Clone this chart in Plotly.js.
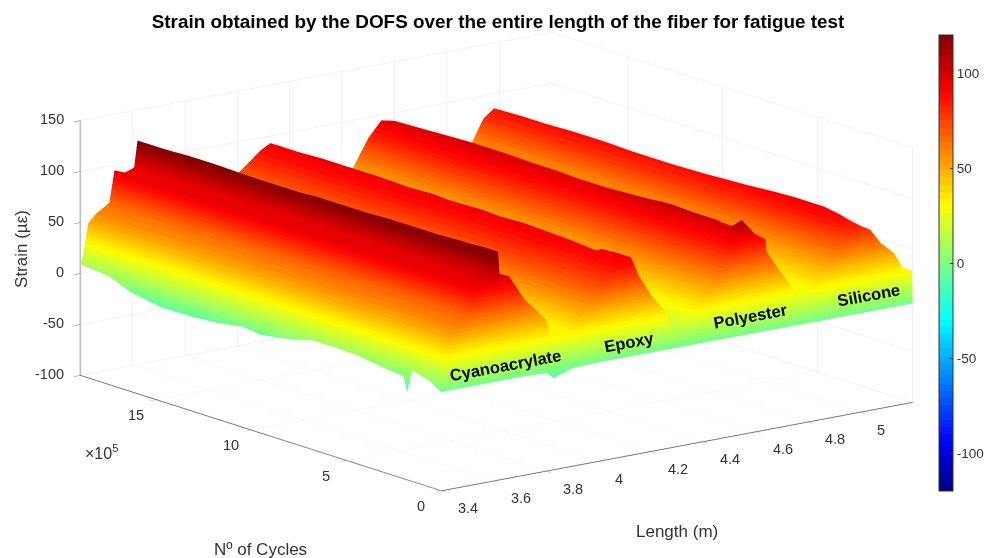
<!DOCTYPE html>
<html><head><meta charset="utf-8">
<script src="https://cdn.plot.ly/plotly-3.0.1.min.js"></script>
<style>html,body{margin:0;padding:0;background:#fff}#c{width:988px;height:558px}</style>
</head><body><div id="c"></div>
<script>
const lengthM=[3.40,3.41,3.43,3.46,3.51,3.53,3.57,3.605,3.618,3.625,3.66,3.72,3.80,3.83,3.90,4.00,4.09,4.126,4.157,4.206,4.263,4.29,4.36,4.44,4.50,4.55,4.60,4.64,4.645,4.70,4.73,4.76,4.82,4.89,4.94,4.98,5.04,5.08,5.13,5.17,5.20];
const cycles=[0,3000,74000,160000,180000,200000,320000,430000,570000,690000,780000,955000,1045000,1180000,1310000,1480000,1630000,1750000,1900000];
const strain=[
[-3.5,-3,-3,-3,-3,-3,-3,-3,-3,-3,-3,-3,-4,-10,-4,-3,-3,-3,-3,-3,-3,-3,-3,-3,-3,-3,-3,-3,-3,-3,-3,-3,-3,-3,-3,-3,-3,-3,-3,-3,-3],
[-3,13,49,60,68,94,96,99,124,100,98,72,49,28,30,68,89,94,74,52,33,5,24,52,80,110,94,87,74,51,40,20,30,54,76,84,77,62,50,31,29],
[4.8,15,48,59,67,95,96,98,124,101,97,73,50,29,31,69,90,94,75,53,34,18,26,54,82,98,94,88,75,52,40,22,31,55,80,90,78,62,50,31,29],
[9,16,47,58,66,96,95,98,123,102,97,72,49,29,30,70,89,93,74,52,33,19,26,55,83,99,95,88,75,51,41,21,30,56,82,93,79,63,51,32,28],
[-14,-2,46,57,66,95,95,98,123,101,96,71,48,28,31,69,88,90,73,51,32,19,25,54,83,100,95,87,74,50,40,21,31,55,81,93,78,62,50,31,28],
[0.2,14,47,58,66,95,94,97,123,101,97,72,49,29,32,69,88,90,74,52,33,20,26,55,84,101,96,88,75,51,41,22,31,55,81,93,78,63,51,32,29],
[2.8,15,46,57,65,94,94,97,122,100,96,71,50,30,31,68,89,92,75,53,34,19,27,56,84,102,96,87,74,52,41,21,30,54,80,93,78,62,50,31,28],
[6.3,16,47,58,66,95,95,96,122,101,97,73,49,29,30,69,90,93,75,52,33,20,26,55,83,103,97,88,75,51,40,22,31,55,80,92,77,62,49,31,28],
[7.3,17,48,58,65,94,94,96,122,100,96,72,50,30,31,70,89,94,76,53,34,20,27,54,82,100,95,87,74,52,41,21,30,54,79,90,77,61,50,30,27],
[7,17,47,57,66,95,93,95,121,101,97,71,49,29,30,69,88,93,75,52,33,19,26,54,81,98,94,86,73,51,40,22,31,55,80,89,76,62,50,31,28],
[1.7,14,46,56,65,94,94,96,121,102,96,72,48,28,31,68,89,94,74,51,32,20,25,53,80,96,93,87,74,50,41,21,30,54,79,88,77,61,49,30,28],
[-3.8,12,45,56,64,95,93,95,121,101,97,71,49,29,32,69,88,93,75,52,33,19,26,54,81,96,93,86,75,51,40,22,30,55,78,87,77,62,50,31,29],
[-1.4,13,46,57,65,94,94,96,120,100,96,72,50,30,31,68,89,94,76,53,34,20,27,55,82,97,94,87,74,52,41,21,31,54,79,87,76,62,51,32,28],
[-5.6,11,45,56,64,95,92,95,120,101,97,70,49,29,30,69,90,93,75,52,33,19,26,54,82,98,94,86,74,51,40,22,30,55,78,87,78,61,50,31,28],
[-7.5,10,44,55,65,94,93,94,120,102,96,71,48,28,31,70,89,94,74,51,32,20,25,55,83,98,95,87,75,50,41,21,29,54,79,88,77,63,50,30,29],
[-8,10,43,55,65,94,94,95,121,102,96,72,48,29,31,69,89,94,75,53,34,19,26,55,83,99,95,87,75,51,40,21,29,54,79,88,78,63,51,31,29],
[-3,12,44,56,64,93,93,96,121,101,95,70,49,30,32,68,88,94,76,52,33,20,25,54,82,97,94,86,74,52,41,22,30,55,78,87,77,62,50,32,28],
[6,16,46,57,65,94,92,95,120,100,96,71,50,29,30,68,87,93,75,51,32,20,27,54,81,96,93,85,73,50,41,22,31,55,79,87,76,61,49,30,27],
[9,18,48,56,64,95,91,94,120,101,97,72,49,28,31,69,88,93,74,52,33,19,26,53,80,95,92,86,74,51,40,21,30,54,78,86,77,62,50,31,28]
];
const lengthTicks=[3.4,3.6,3.8,4,4.2,4.4,4.6,4.8,5];
const cycleTicks=[0,500000,1000000,1500000];
const cycleTickText=['0','5','10','15'];
const strainTicks=[-100,-50,0,50,100,150];
const colorbarTicks=[-100,-50,0,50,100];
const bondLabels=['Cyanoacrylate','Epoxy','Polyester','Silicone'];

// jet colormap, quantised into 64 flat bands as in the reference
const jetStops=[[0,[0,0,128]],[0.11,[0,0,255]],[0.375,[0,255,255]],[0.625,[255,255,0]],[0.875,[255,0,0]],[1,[128,0,0]]];
function jet(t){for(let i=1;i<jetStops.length;i++){if(t<=jetStops[i][0]){const a=jetStops[i-1],b=jetStops[i],f=(t-a[0])/(b[0]-a[0]);
 return 'rgb('+[0,1,2].map(k=>Math.round(a[1][k]+f*(b[1][k]-a[1][k]))).join(',')+')';}}return 'rgb(128,0,0)';}
const bands=64,cs=[];for(let i=0;i<bands;i++){const c=jet((i+.5)/bands);cs.push([i/bands,c]);cs.push([(i+1)/bands,c]);}

const W=988,H=558,FONT='Liberation Sans, Arial, sans-serif';
const note=(text,px,py,size,angle,bold)=>({text:bold?'<b>'+text+'</b>':text,xref:'paper',yref:'paper',x:px/W,y:1-py/H,xanchor:'center',yanchor:'middle',showarrow:false,textangle:angle||0,font:{family:FONT,size:size,color:bold?'#000':'#333'}});
const tickNote=(x,y,z,text,anchor,dx,dy)=>({x:x,y:y,z:z,text:String(text),showarrow:false,xanchor:anchor,yanchor:'middle',xshift:dx,yshift:dy,font:{family:FONT,size:14.5,color:'#333'}});
const sceneNotes=[].concat(
 lengthTicks.map(v=>tickNote(v,0,-100,v,'left',15,-17)),
 cycleTicks.map((v,i)=>tickNote(3.4,v,-100,cycleTickText[i],'center',-20,-15)),
 strainTicks.map(v=>tickNote(3.4,1900000,v,v,'right',-14,2)));
const axisStyle={showbackground:false,showgrid:true,gridcolor:'#e4e4e4',gridwidth:1,zeroline:false,showline:true,linecolor:'#777',linewidth:2,ticks:'outside',ticklen:8,tickcolor:'#777',tickwidth:1,showspikes:false,showticklabels:true,tickfont:{size:1,color:'rgba(0,0,0,0)'},title:{text:''}};
Plotly.newPlot('c',[{type:'surface',x:lengthM,y:cycles,z:strain,cmin:-120,cmax:120,colorscale:cs,hoverinfo:'skip',
 lighting:{ambient:1,diffuse:0,specular:0,roughness:1,fresnel:0},
 contours:{x:{highlight:false},y:{highlight:false},z:{highlight:false}},
 colorbar:{x:941/W,xanchor:'left',xpad:0,ypad:0,y:1-35/H,yanchor:'top',len:456/H,lenmode:'fraction',thickness:14,thicknessmode:'pixels',tickvals:colorbarTicks,ticktext:colorbarTicks.map(v=>String(v)),ticks:'inside',ticklen:3,tickcolor:'#333',outlinecolor:'#333',outlinewidth:1,tickfont:{family:FONT,size:13.5,color:'#333'}}}],
{width:W,height:H,margin:{l:0,r:0,t:0,b:0},paper_bgcolor:'#fff',showlegend:false,
 title:{text:'<b>Strain obtained by the DOFS over the entire length of the fiber for fatigue test</b>',x:498/W,xanchor:'center',y:1-21/H,yanchor:'middle',font:{family:FONT,size:18.9,color:'#000'}},
 scene:{domain:{x:[0.007,1],y:[0.062,1]},aspectmode:'manual',aspectratio:{x:2.27,y:2.27,z:1.005},
  camera:{projection:{type:'orthographic'},eye:{x:-1.18,y:-1.54,z:0.49},up:{x:0,y:0,z:1},center:{x:0,y:0,z:0}},
  xaxis:Object.assign({},axisStyle,{range:[3.4,5.2],tickvals:lengthTicks}),
  yaxis:Object.assign({},axisStyle,{range:[0,1900000],tickvals:cycleTicks}),
  zaxis:Object.assign({},axisStyle,{range:[-100,150],tickvals:strainTicks,linecolor:'#aaa',linewidth:3}),
  annotations:sceneNotes},
 annotations:[
  note(bondLabels[0],507,365,16.5,-10.5,true),note(bondLabels[1],630,342,16.5,-10.5,true),
  note(bondLabels[2],752,316,16.5,-10.5,true),note(bondLabels[3],870,295,16.5,-10.5,true),
  note('Strain (µε)',21,249,17,-90),note('Nº of Cycles',261,549,17),note('Length (m)',678,531,17),
  note('×10<sup>5</sup>',102,452,16)]
},{displayModeBar:false,staticPlot:false});
</script></body></html>
